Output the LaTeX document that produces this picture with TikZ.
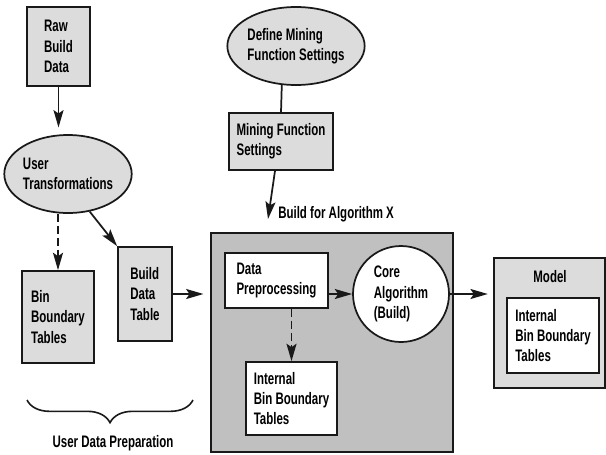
\documentclass[tikz,border=0pt]{standalone}
\usepackage{fontspec}
\setmainfont[FakeStretch=0.69]{Liberation Sans}
\usepackage{tikz}
\usetikzlibrary{shapes.geometric, arrows.meta, positioning, calc, decorations.pathreplacing}
\definecolor{boxgray}{RGB}{220, 220, 220}
\definecolor{algogray}{RGB}{192, 192, 192}
\definecolor{linegray}{RGB}{25, 25, 25}

\tikzset{
    lbl/.style={font=\fontsize{12.5}{15.3}\selectfont\bfseries, align=left, inner sep=0pt},
    graybox/.style={lbl, draw=linegray, line width=1.3pt, fill=boxgray},
    whitebox/.style={lbl, draw=linegray, line width=1.3pt, fill=white},
    blob/.style={lbl, ellipse, draw=linegray, line width=1.3pt, fill=boxgray},
    arr/.style={-{Stealth[length=13pt, width=7.5pt, inset=2.5pt]}, line width=1.3pt, linegray},
    dasharr/.style={arr, dashed, dash pattern=on 6pt off 3pt}
}

\begin{document}
\begin{tikzpicture}[x=0.75pt, y=-0.75pt]
    \useasboundingbox (0,0) rectangle (606,454);

    % User side
    \node[graybox, minimum width=63*0.75pt, minimum height=79*0.75pt] (raw) at (58.5,46.5) {Raw\\Build\\Data};
    \node[blob, minimum width=123*0.75pt, minimum height=78*0.75pt] (usertf) at (68,174) {User\\Transformations};
    \node[graybox, minimum width=72*0.75pt, minimum height=92*0.75pt] (binbt) at (58,317) {Bin\\Boundary\\Tables};
    \node[graybox, minimum width=54*0.75pt, minimum height=94*0.75pt] (bdtable) at (145,294) {Build\\Data\\Table};

    % Settings
    \node[blob, minimum width=123*0.75pt, minimum height=78*0.75pt] (defmfs) at (296,46) {Define Mining\\Function Settings};
    \node[graybox, minimum width=104*0.75pt, minimum height=57*0.75pt] (mfs) at (281,141.5) {Mining Function\\Settings};

    % Build block
    \node[draw=linegray, line width=1.3pt, fill=algogray, minimum width=242*0.75pt, minimum height=219*0.75pt] (algo) at (332,342.5) {};
    \node[lbl, anchor=west] (buildlbl) at (278,214) {Build for Algorithm X};
    \coordinate (buildin) at (268,219);
    \node[whitebox, minimum width=103*0.75pt, minimum height=55*0.75pt] (dataprep) at (276.5,280.5) {Data\\Preprocessing};
    \node[lbl, circle, draw=linegray, line width=1.3pt, fill=white, minimum size=96*0.75pt] (core) at (401,294) {Core\\Algorithm\\(Build)};
    \node[whitebox, minimum width=91*0.75pt, minimum height=73*0.75pt] (intbin) at (291.5,398.5) {Internal\\Bin Boundary\\Tables};

    % Model
    \node[draw=linegray, line width=1.3pt, fill=boxgray, minimum width=111*0.75pt, minimum height=130*0.75pt] (model) at (549.5,323) {};
    \node[lbl] (modellbl) at (550,277) {Model};
    \node[whitebox, minimum width=92*0.75pt, minimum height=75*0.75pt] (modelbin) at (553,335.5) {Internal\\Bin Boundary\\Tables};

    % Brace
    \draw[line width=1.2pt, linegray, decorate, decoration={brace, amplitude=17pt, mirror}] (27,400) -- (193,400);
    \node[lbl] (udp) at (113,443) {User Data Preparation};

    % Connectors
    \draw[arr, shorten >=5pt] (raw.south) -- (raw.south |- usertf.north);
    \draw[dasharr] (usertf.south -| binbt.north) -- (binbt.north);
    \draw[arr] (usertf.-60) -- (bdtable.north west);
    \draw[line width=1.3pt, linegray] (defmfs.-110) -- (mfs.north);
    \draw[arr] ($(mfs.south)+(-6,0)$) -- (buildin);
    \draw[arr, shorten >=5pt] (bdtable.east) -- (bdtable.east -| algo.west);
    \draw[arr] (dataprep.east |- core.west) -- (core.west);
    \draw[dasharr] (intbin.north |- dataprep.south) -- (intbin.north);
    \draw[arr, shorten >=4pt] (core.east) -- (core.east -| model.west);
\end{tikzpicture}
\end{document}
